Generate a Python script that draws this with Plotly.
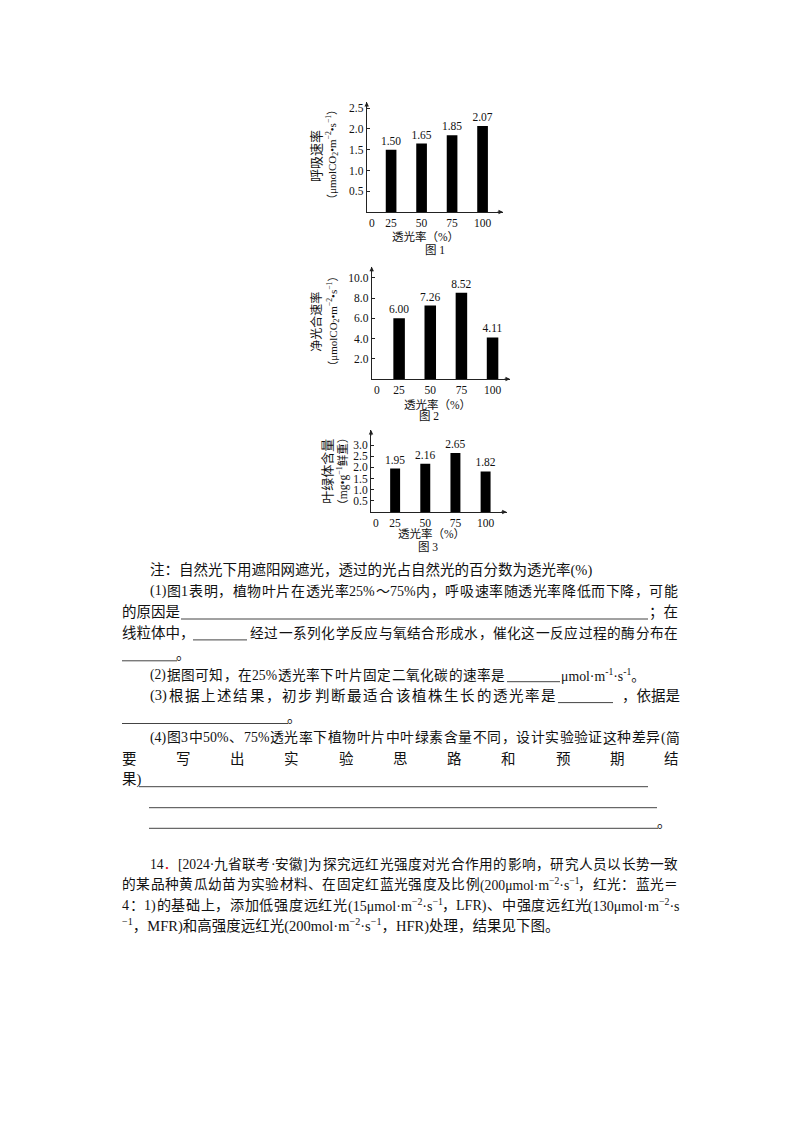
import re
import plotly.graph_objects as go

# page is 800x1132; the html body adds an 8px margin, so the figure is drawn
# 16px smaller and all page positions are shifted by that margin
OFF = 8
W, H = 800 - 2 * OFF, 1132 - 2 * OFF

# data
light = ["25", "50", "75", "100"]
resp = [1.50, 1.65, 1.85, 2.07]      # 图1 呼吸速率
netp = [6.00, 7.26, 8.52, 4.11]      # 图2 净光合速率
chl = [1.95, 2.16, 2.65, 1.82]       # 图3 叶绿体含量

ticks1 = [0.5, 1.0, 1.5, 2.0, 2.5]
ticks2 = [2.0, 4.0, 6.0, 8.0, 10.0]
ticks3 = [0.5, 1.0, 1.5, 2.0, 2.5, 3.0]

SERIF = "Liberation Serif, Noto Sans CJK SC"
BODY = "Liberation Serif, Noto Sans CJK SC"
FS = 14.5


def px(x):
    return (x - OFF) / W


def py(y):
    return 1 - (y - OFF) / H


fig = go.Figure()

charts = [
    # values, axis suffix, x dom (px), y dom (px, zero->top), y max, x range, bar width
    (resp, "", (366.7, 503), (212, 102), 2.65, [-0.8, 3.67], 0.35, ticks1),
    (netp, "2", (371.7, 510), (379, 266.7), 11.1, [-0.88, 3.56], 0.37, ticks2),
    (chl, "3", (371, 506.7), (512, 430), 3.68, [-0.8, 3.7], 0.33, ticks3),
]

annotations = []
layout_axes = {}
for vals, s, xd, yd, ymax, xr, bw, tv in charts:
    fig.add_trace(go.Bar(
        x=light, y=vals, xaxis="x" + s, yaxis="y" + s,
        marker=dict(color="black", line=dict(width=0)),
        width=bw, text=vals, texttemplate="%{y:.2f}", textposition="outside",
        constraintext="none",
        textfont=dict(family=SERIF, size=11.5, color="#111"), cliponaxis=False,
    ))
    layout_axes["xaxis" + s] = dict(
        domain=[px(xd[0]), px(xd[1])], range=xr, anchor="y" + s,
        showline=True, linecolor="#222", linewidth=1, showgrid=False, zeroline=False,
        ticks="", tickfont=dict(family=SERIF, size=11.5, color="#111"), fixedrange=True,
    )
    layout_axes["yaxis" + s] = dict(
        domain=[py(yd[0]), py(yd[1])], range=[0, ymax], anchor="x" + s,
        showline=True, linecolor="#222", linewidth=1, showgrid=False, zeroline=False,
        tickvals=tv, tickformat=".1f", ticks="inside", ticklen=3, tickcolor="#222",
        tickfont=dict(family=SERIF, size=11.5, color="#111"), fixedrange=True,
    )
    xr_ref, yr_ref = "x" + s + " domain", "y" + s + " domain"
    # axis arrows
    annotations.append(dict(x=0, y=1, xref=xr_ref, yref=yr_ref, ax=0, ay=7, text="",
                            showarrow=True, arrowhead=2, arrowsize=0.9, arrowwidth=1, arrowcolor="#222"))
    annotations.append(dict(x=1, y=0, xref=xr_ref, yref=yr_ref, ax=-7, ay=0, text="",
                            showarrow=True, arrowhead=2, arrowsize=0.9, arrowwidth=1, arrowcolor="#222"))
    # origin "0"
    annotations.append(dict(x=0, y=0, xref=xr_ref, yref=yr_ref, text="0", showarrow=False,
                            yanchor="top", yshift=-3, font=dict(family=SERIF, size=11.5, color="#111")))

fig.update_layout(**layout_axes)


def txt(s, x, y, anchor="left", size=FS, color="#111", angle=0, family=BODY):
    annotations.append(dict(text=s, x=px(x), y=py(y), xref="paper", yref="paper",
                            xanchor=anchor, yanchor="middle", showarrow=False,
                            borderpad=0, borderwidth=0,
                            textangle=angle, font=dict(family=family, size=size, color=color)))


# rough Times advance widths (em) for the latin bits
CW = {"0": .5, "1": .5, "2": .5, "3": .5, "4": .5, "5": .5, "7": .5, "%": .833,
      "(": .333, ")": .333, "[": .333, "]": .333, ".": .25, "·": .25, "μ": .576,
      "m": .778, "o": .5, "l": .278, "s": .389, "L": .611, "F": .556, "R": .667,
      "−": .564, "-": .333, " ": .25}


def is_cjk(c):
    return ord(c) >= 0x2E80


def tok_width(t, fs):
    w = 0
    for p in re.split(r"(<sup>.*?</sup>|<sub>.*?</sub>|<[^>]+>)", t):
        if p.startswith("<sup>") or p.startswith("<sub>"):
            w += sum(CW.get(c, .5) for c in p[5:-6]) * 0.7 * fs
        elif p.startswith("<"):
            continue
        else:
            w += sum(1.0 if is_cjk(c) else CW.get(c, .5) for c in p) * fs
    return w


def tokens(s):
    out, run = [], ""
    i = 0
    while i < len(s):
        c = s[i]
        if c == "<":
            j = s.index(">", i)
            run += s[i:j + 1]
            i = j + 1
            continue
        if is_cjk(c):
            if run.strip():
                out.append(run.strip())
            run = ""
            out.append(c)
        else:
            run += c
        i += 1
    if run.strip():
        out.append(run.strip())
    return out


def justify(s, x0, x1, y, size=FS, head=None):
    toks = ([head] if head else []) + tokens(s)
    n = len(toks)
    natural = sum(tok_width(t, size) for t in toks)
    room = x1 - x0 - 0.6 * (n - 1)
    if natural > room:
        size = size * room / natural
    widths = [tok_width(t, size) for t in toks]
    gap = (x1 - x0 - sum(widths)) / (n - 1)
    x = x0
    for t, w in zip(toks[:-1], widths[:-1]):
        txt(t, x, y, size=size)
        x += w + gap
    txt(toks[-1], x1, y, "right", size=size)


shapes = []


def uline(x0, x1, y):
    shapes.append(dict(type="line", xref="paper", yref="paper", x0=px(x0), x1=px(x1),
                       y0=py(y), y1=py(y), line=dict(color="#444", width=1)))


# chart captions
txt("呼吸速率", 316, 156, "center", 13, angle=-90)
txt("（μmolCO<sub>2</sub>•m<sup>−2</sup>•s<sup>−1</sup>）", 332, 155, "center", 11, angle=-90)
txt("透光率（%）", 425, 236.7, "center", 11.5)
txt("图 1", 435, 250, "center", 11.5)

txt("净光合速率", 317, 321.7, "center", 12, angle=-90)
txt("（μmolCO<sub>2</sub>•m<sup>−2</sup>•s<sup>−1</sup>）", 333, 321.7, "center", 11, angle=-90)
txt("透光率（%）", 437, 404, "center", 11.5)
txt("图 2", 429, 415.7, "center", 11.5)

txt("叶绿体含量", 328, 471.7, "center", 13, angle=-90)
txt("（mg•g<sup>−1</sup>鲜重）", 343, 471.7, "center", 11.5, angle=-90)
txt("透光率（%）", 431, 533.3, "center", 11.5)
txt("图 3", 428, 546.7, "center", 11.5)

# body text
L, IND, R = 122, 150, 678
row = [570.5 + 20.9 * k for k in range(13)]
UL = 6.7

txt("注：自然光下用遮阳网遮光，透过的光占自然光的百分数为透光率(%)", IND, row[0])
justify("(1)图 1表明，植物叶片在透光率 25%～75%内，呼吸速率随透光率降低而下降，可能", IND, R, row[1])
txt("的原因是", L, row[2])
uline(181, 648, row[2] + UL)
txt("；在", R, row[2], "right")
txt("线粒体中，", L, row[3])
uline(193, 247, row[3] + UL)
justify("经过一系列化学反应与氧结合形成水，催化这一反应过程的酶分布在", 250, R, row[3])
uline(L, 177, row[4] + UL)
txt("。", 176, row[4])
justify("(2)据图可知，在 25%透光率下叶片固定二氧化碳的速率是", IND, 505, row[5], size=13.8)
uline(507, 560, row[5] + UL)
txt("μmol·m<sup>-1</sup>·s<sup>-1</sup>。", 561, row[5], size=13.8)
justify("(3)根据上述结果，初步判断最适合该植株生长的透光率是", IND, 556, row[6])
uline(558, 613, row[6] + UL)
txt("，依据是", R + 2, row[6], "right")
uline(L, 288, row[7] + UL)
txt("。", 287, row[7])
justify("(4)图 3 中 50%、75%透光率下植物叶片中叶绿素含量不同，设计实验验证这种差异(简", IND, R + 2, row[8])
spread = "要写出实验思路和预期结"
for i, ch in enumerate(spread):
    txt(ch, 129 + i * (671.7 - 129) / (len(spread) - 1), row[9], "center")
txt("果)", L, row[10])
uline(139, 648, 786.7)
uline(149, 657, 807.7)
uline(149, 658, 828.3)
txt("。", 657, 828.3 - 6.7)

prow = [864 + 20.6 * k for k in range(4)]
justify("[2024·九省联考·安徽]为探究远红光强度对光合作用的影响，研究人员以长势一致",
        IND, R, prow[0], head="14<span style='color:#e60012'>．</span>")
justify("的某品种黄瓜幼苗为实验材料、在固定红蓝光强度及比例(200μmol·m<sup>−2</sup>·s<sup>−1</sup>，红光：蓝光＝",
        L, R, prow[1])
justify("4：1)的基础上，添加低强度远红光(15μmol·m<sup>−2</sup>·s<sup>−1</sup>，LFR)、中强度远红光(130μmol·m<sup>−2</sup>·s",
        L, R + 2, prow[2])
txt("<sup>−1</sup>，MFR)和高强度远红光(200mol·m<sup>−2</sup>·s<sup>−1</sup>，HFR)处理，结果见下图。",
    L, prow[3])

fig.update_layout(
    width=W, height=H, margin=dict(l=0, r=0, t=0, b=0),
    paper_bgcolor="white", plot_bgcolor="white", showlegend=False,
    bargap=0.6, annotations=annotations, shapes=shapes,
)

fig.write_html("out.html")
